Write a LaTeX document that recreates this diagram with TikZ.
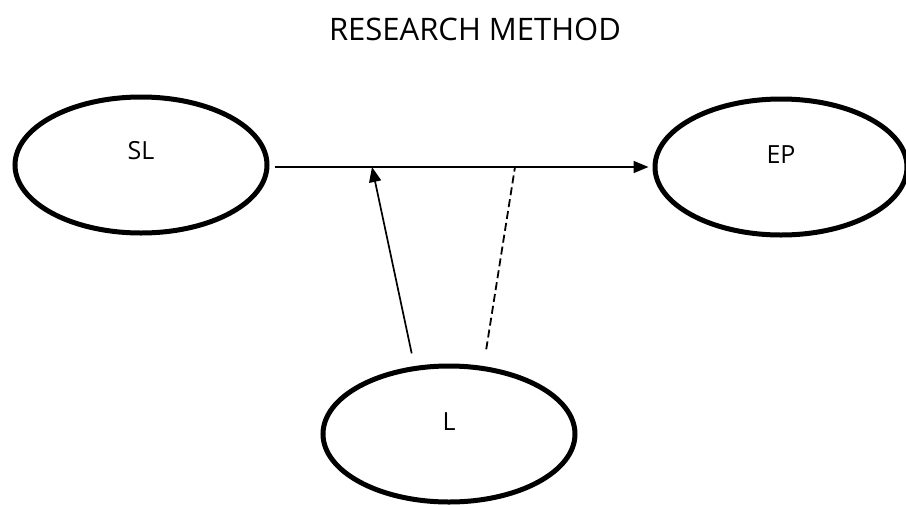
\documentclass[tikz,border=0pt]{standalone}
\usepackage{fontspec}
\setmainfont{Open Sans}
\usetikzlibrary{shapes.geometric,arrows.meta,positioning}

\begin{document}
\begin{tikzpicture}[x=1pt,y=-1pt,
            factor/.style={
                ellipse, draw, line width=5pt, minimum width=252pt, minimum height=136pt},
            mylabel/.style={font=\fontsize{25}{30}\selectfont},
            myarrow/.style={line width=1.7pt, -{Triangle[length=15pt,width=12pt]}}]

            \useasboundingbox (0,0) rectangle (906,504);

            \node [font=\fontsize{31}{36}\selectfont] (title) at (475,29) {RESEARCH METHOD};

            \node [factor,label={[mylabel,yshift=14pt]center:SL}] (sl) at (141,165) {};
            \node [factor,label={[mylabel,yshift=12pt]center:EP}] (ep) at (781,167) {};
            \node [factor,label={[mylabel,yshift=12pt]center:L}] (l) at (449,434) {};

            \coordinate (m1) at (372,167);
            \coordinate (m2) at (515,167);

            \draw [myarrow,shorten <=5pt,shorten >=4pt] (sl.east |- m1) -- (ep.west |- m1);
            \draw [myarrow,shorten <=13pt] (l.117) -- (m1);
            \draw [line width=1.8pt,dash pattern=on 8pt off 4pt,shorten <=17pt] (l.63) -- (m2);

        \end{tikzpicture}
\end{document}
